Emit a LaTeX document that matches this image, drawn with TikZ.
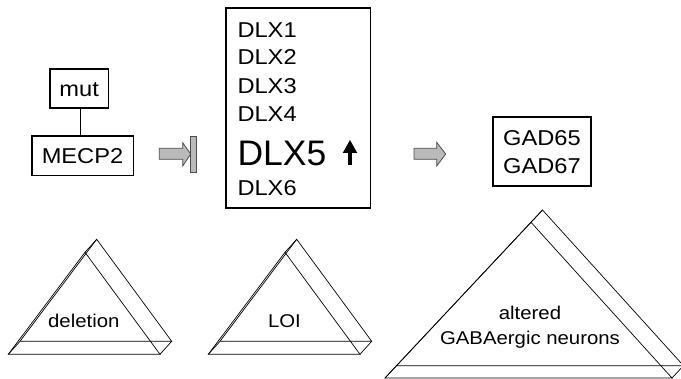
\documentclass[tikz,border=0pt]{standalone}
\usepackage{fontspec}
\setmainfont{Liberation Sans}[FakeStretch=1.1]
\newfontfamily\bigdlx{Liberation Sans}
\begin{document}
\begin{tikzpicture}[x=1pt,y=-1pt,
  box/.style={draw, line width=1.6pt, inner sep=0pt, font=\fontsize{21.5}{28.3}\selectfont, align=center},
  onebox/.style={box, text height=15.4pt, text depth=0pt},
  dlxtxt/.style={anchor=base west, inner sep=0pt, font=\fontsize{21.5}{24}\selectfont},
  tritxt/.style={anchor=base, inner sep=0pt, font=\fontsize{18.5}{24}\selectfont},
  grayarrow/.style={draw=black!70, fill=black!27, line width=0.8pt},
  prism/.style={draw, line width=0.7pt, line join=miter}]
\useasboundingbox (0,0) rectangle (681,379);

% boxes
\node[onebox, minimum width=58.3pt, minimum height=39pt] (mut) at (79.2,88.8) {mut};
\node[onebox, minimum width=101.6pt, minimum height=39.7pt] (mecp) at (82.5,155.8) {MECP2};
\draw[line width=1.2pt] (mut.south -| 80.7,0) -- (mecp.north -| 80.7,0);

\node[box, minimum width=144.5pt, minimum height=200pt] (dlx) at (298.2,108.3) {};
\node[dlxtxt] (d1) at (237.3,37.3) {DLX1};
\node[dlxtxt] (d2) at (237.3,65) {DLX2};
\node[dlxtxt] (d3) at (237.3,93.3) {DLX3};
\node[dlxtxt] (d4) at (237.3,121.7) {DLX4};
\node[anchor=base west, inner sep=0pt, font=\bigdlx\fontsize{35.5}{40}\selectfont] (d5) at (237.3,165.5) {DLX5};
\node[dlxtxt] (d6) at (237.3,195.7) {DLX6};
\fill (350,140) -- (357.3,153) -- (351.8,153) -- (351.8,165) -- (348.2,165) -- (348.2,153) -- (342.7,153) -- cycle;

\node[box, minimum width=98pt, minimum height=69pt] (gad) at (542,151.8) {GAD65\\GAD67};

% gray arrows
\path[grayarrow] (159.3,148.3) -- (182.7,148.3) -- (182.7,142.7) -- (190.7,154) -- (182.7,166) -- (182.7,159.3) -- (159.3,159.3) -- cycle;
\path[grayarrow] (190,136.7) rectangle (196,172.7);
\path[grayarrow] (414,148.3) -- (436.7,148.3) -- (436.7,142.3) -- (445.7,154) -- (436.7,166) -- (436.7,159.3) -- (414,159.3) -- cycle;

% prisms
\foreach \dx in {0,200}{
  \begin{scope}[xshift=\dx pt]
  \draw[prism] (85,252.3) -- (8.3,354.3) -- (160,354.3) -- cycle;
  \draw[prism] (96.7,239.3) -- (20,341.3) -- (171.7,341.3) -- cycle;
  \draw[prism] (85,252.3) -- (96.7,239.3);
  \draw[prism] (8.3,354.3) -- (20,341.3);
  \draw[prism] (160,354.3) -- (171.7,341.3);
  \end{scope}
}
\draw[prism] (531,222.3) -- (385,378) -- (672,378) -- cycle;
\draw[prism] (542.5,210) -- (396.5,365.7) -- (683.5,365.7) -- cycle;
\draw[prism] (531,222.3) -- (542.5,210);
\draw[prism] (385,378) -- (396.5,365.7);
\draw[prism] (672,378) -- (683.5,365.7);

\node[tritxt] (del) at (83.8,327.3) {deletion};
\node[tritxt] (loi) at (284.5,327.3) {LOI};
\node[tritxt] (alt1) at (530,320) {altered};
\node[tritxt] (alt2) at (530,345) {GABAergic neurons};
\end{tikzpicture}
\end{document}
